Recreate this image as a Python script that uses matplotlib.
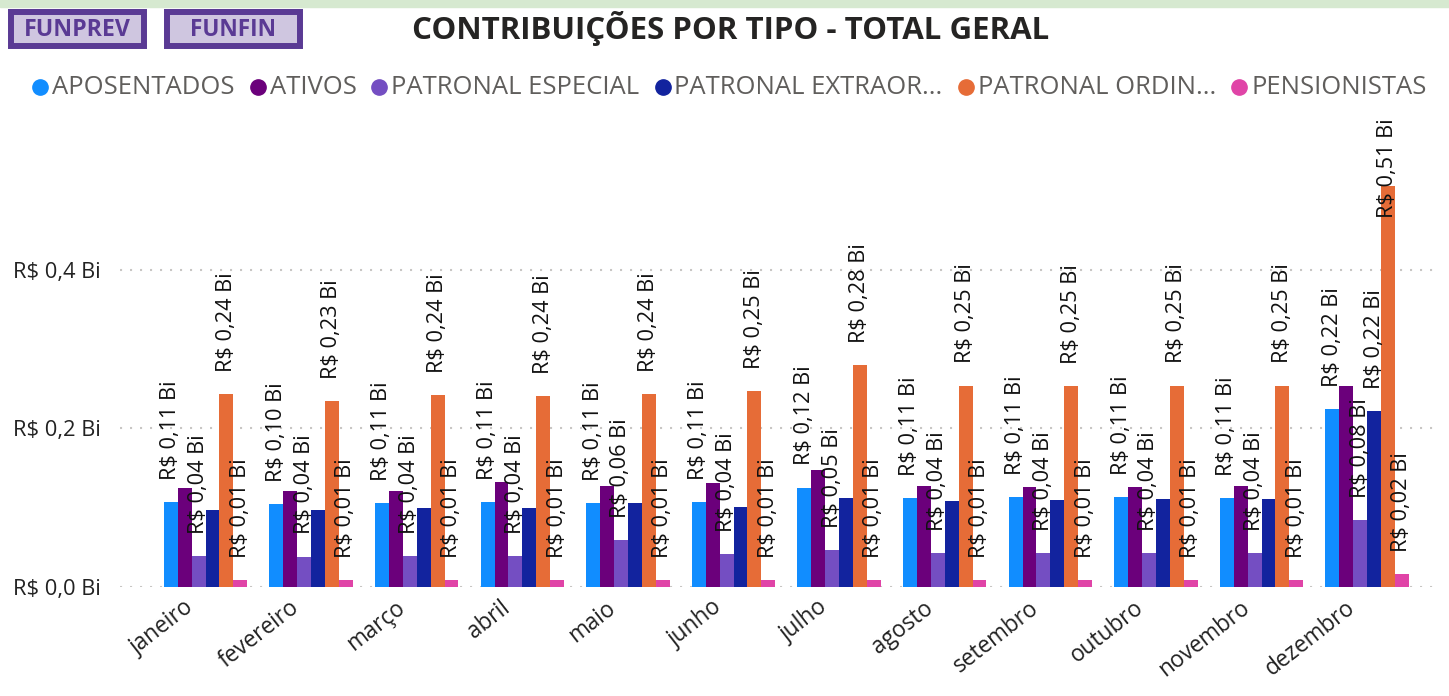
import matplotlib
matplotlib.use("Agg")
import matplotlib.pyplot as plt
from matplotlib.patches import Rectangle
from matplotlib.lines import Line2D

# ---------------- data (R$ bilhões) ----------------
months = ['janeiro', 'fevereiro', 'março', 'abril', 'maio', 'junho', 'julho',
          'agosto', 'setembro', 'outubro', 'novembro', 'dezembro']
series_names = ['APOSENTADOS', 'ATIVOS', 'PATRONAL ESPECIAL', 'PATRONAL EXTRAOR...',
                'PATRONAL ORDIN...', 'PENSIONISTAS']
aposentados = [0.107, 0.104, 0.106, 0.107, 0.106, 0.107, 0.125, 0.112, 0.113, 0.113, 0.112, 0.224]
ativos = [0.125, 0.121, 0.121, 0.132, 0.127, 0.131, 0.147, 0.127, 0.126, 0.126, 0.127, 0.253]
patronal_especial = [0.039, 0.038, 0.039, 0.039, 0.059, 0.041, 0.046, 0.042, 0.042, 0.042, 0.042, 0.084]
patronal_extra = [0.097, 0.097, 0.099, 0.099, 0.106, 0.101, 0.112, 0.108, 0.109, 0.111, 0.111, 0.222]
patronal_ordinario = [0.243, 0.234, 0.242, 0.241, 0.243, 0.247, 0.280, 0.254, 0.253, 0.254, 0.254, 0.506]
pensionistas = [0.0085, 0.0085, 0.0085, 0.0085, 0.0085, 0.0085, 0.0085, 0.0085, 0.0085, 0.0085, 0.0085, 0.016]
# which series show a data label in each month (others hidden by overlap)
shown_labels = [[0, 2, 4, 5]] * 11 + [[0, 2, 3, 4, 5]]
yticks = [0.0, 0.2, 0.4]
ytick_labels = ['R$ 0,0 Bi', 'R$ 0,2 Bi', 'R$ 0,4 Bi']
title = 'CONTRIBUIÇÕES POR TIPO - TOTAL GERAL'
buttons = ['FUNPREV', 'FUNFIN']

series = [aposentados, ativos, patronal_especial, patronal_extra, patronal_ordinario, pensionistas]
colors = ['#118DFF', '#6B007B', '#744EC2', '#12239E', '#E66C37', '#E044A7']

# ---------------- figure ----------------
W, H = 1449, 696
fig = plt.figure(figsize=(W / 100, H / 100), dpi=100)
FONT = ['Open Sans', 'DejaVu Sans']
renderer = fig.canvas.get_renderer()


def fx(px):
    return px / W


def fy(py):
    return 1 - py / H


def size_for(s, target_w, **kw):
    """font size making string s about target_w pixels wide"""
    fs = 14.0
    t = fig.text(0, 0, s, fontsize=fs, **kw)
    for _ in range(3):
        w = t.get_window_extent(renderer).width
        fs = fs * target_w / w
        t.set_fontsize(fs)
    t.remove()
    return fs


fs_data = size_for('R$ 0,11 Bi', 100, family=FONT)
fs_ytick = size_for('R$ 0,4 Bi', 88, family=FONT)
fs_xtick = size_for('janeiro', 74, family=FONT)
fs_leg = size_for('APOSENTADOS', 182, family=FONT)

# green top strip
fig.patches.append(Rectangle((0, fy(6.5)), 1, 6.5 / H, transform=fig.transFigure,
                             color='#D6E9D0', zorder=0))

ax = fig.add_axes([fx(120), fy(586.7), fx(1440) - fx(120), fy(111.5) - fy(586.7)])
n = len(series)
bw = 0.1316
for si, (vals, c) in enumerate(zip(series, colors)):
    xs = [i + (si - (n - 1) / 2) * bw for i in range(len(months))]
    ax.bar(xs, vals, width=bw, color=c, zorder=2, linewidth=0)

annots = []
for mi in range(len(months)):
    for si in shown_labels[mi]:
        v = series[si][mi]
        x = mi + (si - (n - 1) / 2) * bw
        txt = 'R$ ' + f'{v:.2f}'.replace('.', ',') + ' Bi'
        a = ax.annotate(txt, xy=(x, v), xytext=(0, 16), textcoords='offset points',
                        rotation=90, ha='center', va='bottom', fontsize=fs_data,
                        color='#111111', family=FONT, zorder=5)
        annots.append(a)

ax.set_xlim(-0.81, 11.69)
ax.set_ylim(0, 0.6)
ax.set_yticks(yticks)
ax.set_yticklabels(ytick_labels, family=FONT, fontsize=fs_ytick, color='#222222')
ax.set_xticks(range(len(months)))
ax.set_xticklabels([])
# category labels, rotated and offset like Power BI
for mi, m in enumerate(months):
    ax.annotate(m, xy=(mi, 0), xycoords=('data', 'axes fraction'),
                xytext=(-10.5, -13.5), textcoords='offset points',
                rotation=38, ha='right', va='center', rotation_mode='anchor',
                family=FONT, fontsize=fs_xtick, color='#222222', annotation_clip=False)
ax.tick_params(axis='both', length=0)
ax.tick_params(axis='y', pad=14)
for s in ax.spines.values():
    s.set_visible(False)
ax.yaxis.grid(True, color='#C8C6C4', linewidth=1.5, linestyle=(0, (1, 3.8)), zorder=0)
ax.set_axisbelow(True)

# keep data labels inside the plot area (as Power BI does)
fig.canvas.draw()
top_limit = H - 118
for a in annots:
    bb = a.get_window_extent(renderer)
    if bb.y1 > top_limit:
        shift_px = bb.y1 - top_limit
        a.set_position((0, 16 - shift_px * 72 / 100))


def fit_text(x, y, s, target_w, **kw):
    t = fig.text(x, y, s, **kw)
    fs = kw.get('fontsize', 20)
    for _ in range(3):
        w = t.get_window_extent(renderer).width
        fs = fs * target_w / w
        t.set_fontsize(fs)
    return t


# title
fit_text(fx(731), fy(28), title, 638, ha='center', va='center', fontsize=24,
         fontweight='bold', color='#252423',
         family=['Liberation Sans Narrow', 'Open Sans', 'DejaVu Sans'], fontstretch='condensed')

# buttons
btn_boxes = [(8, 147), (164, 303)]
btn_text_w = [107, 87]
for (x0, x1), lab, tw in zip(btn_boxes, buttons, btn_text_w):
    fig.patches.append(Rectangle((fx(x0 + 3), fy(49 - 3)), fx(x1 - x0 - 6), (49 - 9 - 6) / H,
                                 transform=fig.transFigure, facecolor='#CFC6E0',
                                 edgecolor='#5A3A94', linewidth=4.3, zorder=1))
    fit_text(fx((x0 + x1) / 2), fy(29.5), lab, tw, ha='center', va='center', fontsize=16,
             fontweight='bold', color='#5A3A94', family=FONT, zorder=3)

# legend (flow layout)
x = 32.0
ly = 87
for name, c in zip(series_names, colors):
    fig.add_artist(Line2D([fx(x + 8)], [fy(ly)], marker='o', markersize=11, color=c,
                          linestyle='none', transform=fig.transFigure))
    t = fig.text(fx(x + 20), fy(ly), name, ha='left', va='center', fontsize=fs_leg,
                 color='#605E5C', family=FONT)
    w = t.get_window_extent(renderer).width
    x = x + 20 + w + 15

fig.savefig('out.png', dpi=100, facecolor='white')
